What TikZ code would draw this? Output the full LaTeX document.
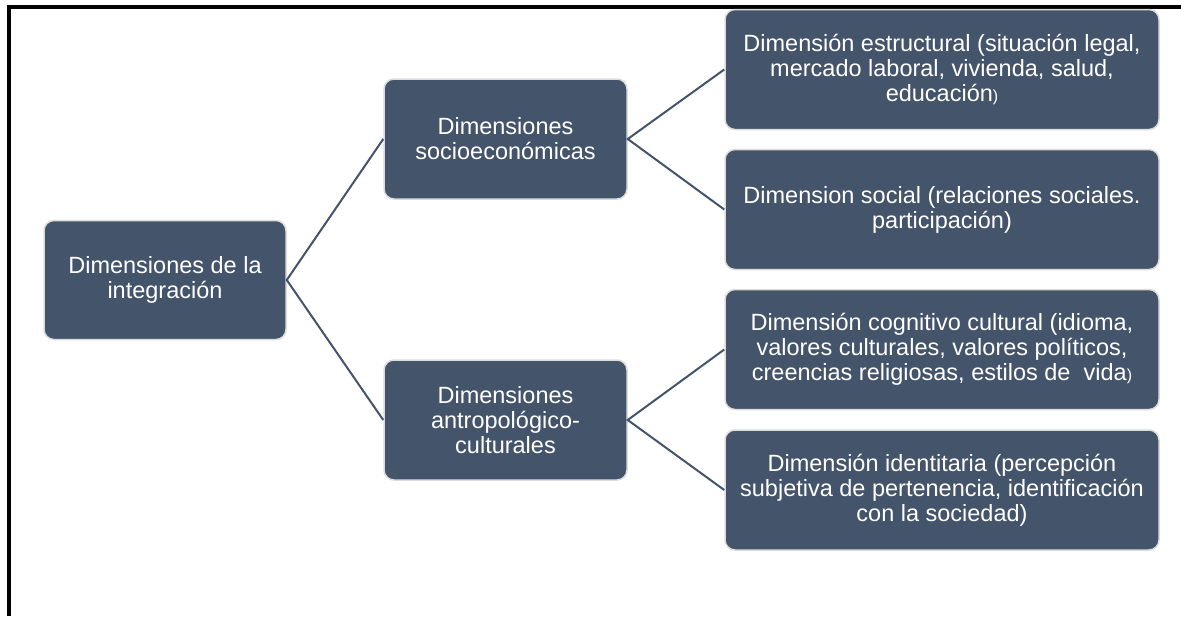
\documentclass[tikz,border=0pt]{standalone}
\usepackage{fontspec}
\setmainfont{Liberation Sans}
\definecolor{boxfill}{HTML}{44546A}
\definecolor{boxline}{HTML}{DCDCDC}
\begin{document}
\begin{tikzpicture}[x=1pt,y=-1pt,
  dimbox/.style={draw=boxline, line width=1.5pt, fill=boxfill, rounded corners=10pt,
    text=white, align=center, inner sep=0pt,
    font=\fontsize{23.5}{25}\selectfont},
  link/.style={draw=boxfill, line width=2pt}]
\useasboundingbox (0,0) rectangle (1181,616);
\fill[white] (0,0) rectangle (1181,616);
% frame
\draw[line width=3.5pt] (9,616) -- (9,7) -- (1181,7);
% boxes
\node[dimbox, minimum width=242pt, minimum height=119pt] (root) at (165,280) {Dimensiones de la\\integración};
\node[dimbox, minimum width=243pt, minimum height=120pt] (soc) at (505.5,139) {Dimensiones\\socioeconómicas};
\node[dimbox, minimum width=243pt, minimum height=120pt] (ant) at (505.5,420) {Dimensiones\\antropológico-\\culturales};
\node[dimbox, minimum width=434pt, minimum height=120pt] (r1) at (942,69.5) {Dimensión estructural (situación legal,\\mercado laboral, vivienda, salud,\\educación{\fontsize{16}{25}\selectfont)}};
\node[dimbox, minimum width=434pt, minimum height=120pt] (r2) at (942,209.5) {Dimension social (relaciones sociales.\\participación)};
\node[dimbox, minimum width=434pt, minimum height=120pt] (r3) at (942,349.5) {Dimensión cognitivo cultural (idioma,\\valores culturales, valores políticos,\\creencias religiosas, estilos de\ \ vida{\fontsize{16}{25}\selectfont)}};
\node[dimbox, minimum width=434pt, minimum height=120pt] (r4) at (942,490) {Dimensión identitaria (percepción\\subjetiva de pertenencia, identificación\\con la sociedad)};
% connectors
\draw[link] (soc.west) -- (root.east) -- (ant.west);
\draw[link] (r1.west) -- (soc.east) -- (r2.west);
\draw[link] (r3.west) -- (ant.east) -- (r4.west);
\end{tikzpicture}
\end{document}
